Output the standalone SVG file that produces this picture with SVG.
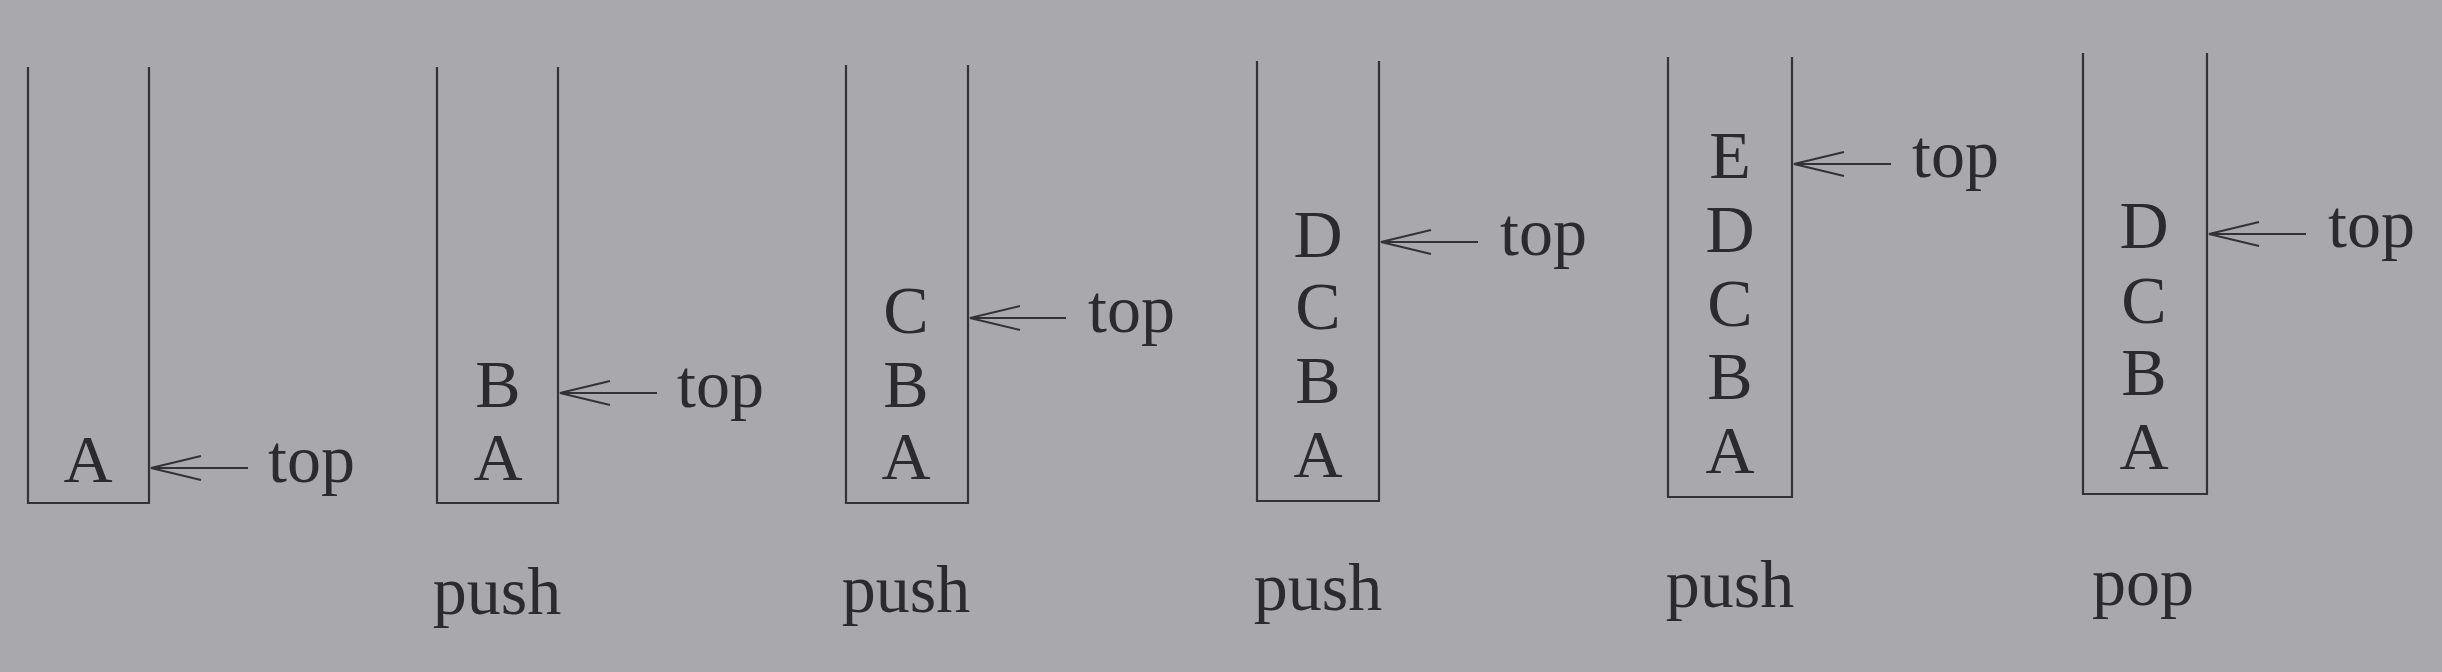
<svg xmlns="http://www.w3.org/2000/svg" width="2442" height="672" viewBox="0 0 2442 672">
<defs>
<style>
.bg{fill:#a9a9ad}
.stk{fill:none;stroke:#333336;stroke-width:2.2}
.arr{fill:none;stroke:#333336;stroke-width:2}
.t{font-family:"Liberation Serif","Times New Roman",serif;font-size:68px;fill:#2b2b2f}
.c{text-anchor:middle}
</style>
<marker id="open" viewBox="-54 -15 56 30" refX="0" refY="0" markerWidth="56" markerHeight="30" markerUnits="userSpaceOnUse" orient="auto" overflow="visible">
<path d="M -50 -12 L 0 0 L -50 12" fill="none" stroke="#333336" stroke-width="2"/>
</marker>
</defs>
<rect class="bg" x="0" y="0" width="2442" height="672"/>

<g id="stack1">
<polyline class="stk" points="28,67 28,503 149,503 149,67"/>
<text class="t c" x="88" y="482">A</text>
<text class="t" x="268" y="482">top</text>
</g>

<g id="stack2">
<polyline class="stk" points="437,67 437,503 558,503 558,67"/>
<text class="t c" x="498" y="407">B</text>
<text class="t c" x="498" y="480">A</text>
<text class="t" x="677" y="407">top</text>
<text class="t c" x="497" y="614">push</text>
</g>

<g id="stack3">
<polyline class="stk" points="846,65 846,503 968,503 968,65"/>
<text class="t c" x="906" y="333">C</text>
<text class="t c" x="906" y="407">B</text>
<text class="t c" x="906" y="479">A</text>
<text class="t" x="1088" y="332">top</text>
<text class="t c" x="906" y="612">push</text>
</g>

<g id="stack4">
<polyline class="stk" points="1257,61 1257,501 1379,501 1379,61"/>
<text class="t c" x="1318" y="257">D</text>
<text class="t c" x="1318" y="329">C</text>
<text class="t c" x="1318" y="403">B</text>
<text class="t c" x="1318" y="477">A</text>
<text class="t" x="1500" y="255">top</text>
<text class="t c" x="1318" y="610">push</text>
</g>

<g id="stack5">
<polyline class="stk" points="1668,57 1668,497 1792,497 1792,57"/>
<text class="t c" x="1730" y="178">E</text>
<text class="t c" x="1730" y="252">D</text>
<text class="t c" x="1730" y="326">C</text>
<text class="t c" x="1730" y="399">B</text>
<text class="t c" x="1730" y="473">A</text>
<text class="t" x="1912" y="177">top</text>
<text class="t c" x="1730" y="607">push</text>
</g>

<g id="stack6">
<polyline class="stk" points="2083,53 2083,494 2207,494 2207,53"/>
<text class="t c" x="2144" y="248">D</text>
<text class="t c" x="2144" y="323">C</text>
<text class="t c" x="2144" y="395">B</text>
<text class="t c" x="2144" y="469">A</text>
<text class="t" x="2328" y="247">top</text>
<text class="t c" x="2143" y="605">pop</text>
</g>

<g id="connectors">
<line class="arr" x1="248" y1="468" x2="151" y2="468" marker-end="url(#open)"/>
<line class="arr" x1="657" y1="393" x2="560" y2="393" marker-end="url(#open)"/>
<line class="arr" x1="1066" y1="318" x2="970" y2="318" marker-end="url(#open)"/>
<line class="arr" x1="1478" y1="242" x2="1381" y2="242" marker-end="url(#open)"/>
<line class="arr" x1="1891" y1="164" x2="1794" y2="164" marker-end="url(#open)"/>
<line class="arr" x1="2306" y1="234" x2="2209" y2="234" marker-end="url(#open)"/>
</g>
</svg>
